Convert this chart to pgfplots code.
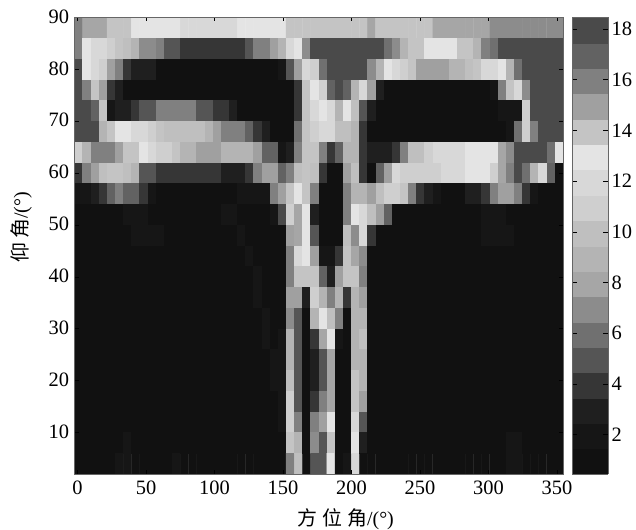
\documentclass[border=0pt]{standalone}
\usepackage{pgfplots}
\pgfplotsset{compat=1.18}
\usepackage{fontspec}
\setmainfont{Liberation Serif}
\newfontfamily\cjk{Noto Sans CJK SC}
\begin{document}
\begin{tikzpicture}[x=1bp,y=1bp]
\useasboundingbox (0,0) rectangle (636,530);
\begin{axis}[
  at={(74.5bp,56bp)},anchor=south west,
  scale only axis,width=488.5bp,height=456.5bp,
  xmin=-2.2,xmax=354.4,ymin=2,ymax=90,
  xtick={0,50,...,350},ytick={10,20,...,90},
  tick align=inside,major tick length=4bp,
  tick style={black,line width=0.5bp},
  axis line style={black!60,line width=0.6bp},
  axis on top,
  /pgf/number format/assume math mode=true,
  tick label style={font=\fontsize{20.5}{23}\selectfont},
  xticklabel style={yshift=-3bp},
  yticklabel style={xshift=-2bp,yshift=1bp},
  xlabel={{\cjk 方\hspace{0.25em}位\hspace{0.25em}角}/(°)},
  ylabel={{\cjk 仰\hspace{0.2em}角}/(°)},
  label style={font=\fontsize{20}{24}\selectfont},
  xlabel style={at={(axis description cs:0.555,0)},yshift=-31bp},
  ylabel style={at={(axis description cs:0,0.54)},yshift=39bp},
  colormap={g}{
    rgb255=(17,17,17); rgb255=(22,22,22); rgb255=(31,31,31); rgb255=(54,54,54);
    rgb255=(85,85,85); rgb255=(112,112,112); rgb255=(140,140,140); rgb255=(166,166,166);
    rgb255=(180,180,180); rgb255=(191,191,191); rgb255=(207,207,207); rgb255=(216,216,216);
    rgb255=(228,228,228); rgb255=(196,196,196); rgb255=(160,160,160); rgb255=(128,128,128);
    rgb255=(98,98,98); rgb255=(74,74,74)},
  colormap access=piecewise constant,
  point meta min=0.45,point meta max=18.45,
  colorbar sampled,
  colorbar style={
    samples=19,
    at={(parent axis.north east)},anchor=north west,xshift=0.5bp,
    width=36bp,
    ytick={2,4,...,18},
    yticklabel pos=right,
    tick align=inside,
    major tick length=5bp,
    ytick pos=both,
    tick style={black,line width=0.5bp},
    axis line style={black!60,line width=0.6bp},
    /pgf/number format/assume math mode=true,
    yticklabel style={font=\fontsize{20.5}{23}\selectfont,xshift=0bp},
  },
]
\addplot[matrix plot*,mesh/cols=60,point meta=explicit] table[header=false,row sep=crcr,
  x expr={-2.2+5.9433*(\coordindex-60*floor((\coordindex+0.5)/60)+0.5)},
  y expr={(21-floor((\coordindex+0.5)/60))*4+4},
  meta index=0]{
16\\8\\8\\8\\14\\14\\14\\13\\13\\13\\ 13\\13\\13\\12\\12\\12\\12\\12\\12\\12\\ 13\\13\\13\\13\\13\\13\\14\\14\\14\\14\\ 14\\14\\14\\14\\14\\14\\8\\14\\14\\14\\ 14\\14\\14\\14\\8\\8\\8\\8\\8\\8\\ 8\\7\\7\\7\\7\\7\\7\\7\\7\\7\\
16\\13\\12\\12\\11\\14\\10\\9\\7\\7\\ 16\\5\\5\\4\\4\\4\\4\\4\\4\\4\\ 4\\5\\16\\16\\15\\9\\12\\13\\7\\18\\ 18\\18\\18\\18\\18\\18\\18\\18\\6\\7\\ 9\\14\\14\\13\\13\\13\\13\\14\\14\\9\\ 16\\6\\18\\18\\18\\18\\18\\18\\18\\18\\
18\\13\\12\\11\\15\\16\\4\\3\\3\\3\\ 1\\1\\1\\1\\1\\1\\1\\1\\1\\1\\ 1\\1\\1\\1\\1\\2\\5\\15\\12\\11\\ 6\\18\\18\\18\\18\\18\\7\\9\\13\\12\\ 11\\14\\15\\15\\15\\15\\9\\9\\10\\14\\ 12\\12\\13\\9\\6\\18\\18\\18\\18\\18\\
18\\16\\14\\15\\4\\3\\1\\1\\1\\1\\ 1\\1\\1\\1\\1\\1\\1\\1\\1\\1\\ 1\\1\\1\\1\\1\\1\\1\\4\\14\\13\\ 11\\17\\18\\17\\9\\12\\15\\3\\1\\1\\ 1\\1\\1\\1\\1\\1\\1\\1\\1\\1\\ 1\\2\\16\\14\\12\\7\\18\\18\\18\\18\\
18\\18\\17\\14\\2\\3\\3\\4\\5\\5\\ 16\\16\\16\\16\\16\\5\\5\\4\\4\\3\\ 1\\1\\1\\1\\1\\1\\1\\4\\14\\12\\ 13\\12\\9\\13\\10\\5\\3\\1\\1\\1\\ 1\\1\\1\\1\\1\\1\\1\\1\\1\\1\\ 1\\1\\2\\2\\2\\11\\18\\18\\18\\18\\
18\\18\\18\\9\\14\\13\\13\\12\\12\\11\\ 14\\10\\10\\10\\10\\10\\9\\15\\16\\16\\ 16\\17\\4\\3\\1\\1\\1\\6\\14\\11\\ 12\\12\\10\\10\\9\\4\\1\\1\\1\\1\\ 1\\1\\1\\1\\1\\1\\1\\1\\1\\1\\ 1\\1\\1\\2\\6\\11\\16\\18\\18\\18\\
11\\9\\16\\16\\16\\15\\14\\14\\13\\12\\ 11\\11\\14\\9\\9\\15\\15\\15\\9\\9\\ 9\\9\\15\\17\\17\\2\\3\\16\\14\\14\\ 16\\4\\17\\9\\9\\4\\3\\3\\3\\4\\ 16\\10\\10\\11\\12\\12\\12\\12\\13\\13\\ 13\\13\\8\\7\\18\\18\\18\\18\\6\\13\\
4\\16\\15\\10\\14\\14\\10\\9\\5\\5\\ 4\\4\\4\\4\\4\\4\\4\\4\\3\\3\\ 3\\4\\16\\15\\15\\17\\16\\10\\14\\10\\ 4\\1\\1\\15\\10\\4\\1\\17\\15\\12\\ 11\\11\\11\\11\\11\\12\\12\\12\\13\\13\\ 13\\11\\8\\16\\18\\6\\9\\12\\17\\1\\
2\\2\\3\\4\\17\\16\\17\\17\\4\\2\\ 1\\1\\1\\1\\1\\1\\1\\1\\1\\1\\ 2\\2\\2\\2\\16\\15\\14\\13\\14\\16\\ 1\\1\\1\\16\\9\\9\\15\\10\\11\\11\\ 14\\16\\4\\3\\2\\1\\1\\1\\3\\3\\ 4\\16\\15\\15\\16\\4\\2\\1\\1\\1\\
1\\1\\1\\1\\1\\1\\2\\2\\2\\1\\ 1\\1\\1\\1\\1\\1\\1\\1\\2\\2\\ 1\\1\\1\\1\\2\\18\\11\\8\\13\\3\\ 1\\1\\1\\16\\13\\12\\10\\15\\17\\1\\ 1\\1\\1\\1\\1\\1\\1\\1\\1\\1\\ 2\\2\\2\\1\\1\\1\\1\\1\\1\\1\\
1\\1\\1\\1\\1\\1\\1\\2\\2\\2\\ 2\\1\\1\\1\\1\\1\\1\\1\\1\\1\\ 2\\1\\1\\1\\1\\1\\15\\8\\13\\5\\ 1\\1\\1\\10\\7\\12\\4\\1\\1\\1\\ 1\\1\\1\\1\\1\\1\\1\\1\\1\\1\\ 2\\2\\2\\2\\1\\1\\1\\1\\1\\1\\
1\\1\\1\\1\\1\\1\\1\\1\\1\\1\\ 1\\1\\1\\1\\1\\1\\1\\1\\1\\1\\ 1\\2\\1\\1\\1\\1\\16\\12\\13\\15\\ 2\\2\\4\\14\\8\\7\\1\\1\\1\\1\\ 1\\1\\1\\1\\1\\1\\1\\1\\1\\1\\ 1\\1\\1\\1\\1\\1\\1\\1\\1\\1\\
1\\1\\1\\1\\1\\1\\1\\1\\1\\1\\ 1\\1\\1\\1\\1\\1\\1\\1\\1\\1\\ 1\\1\\2\\1\\1\\1\\16\\14\\14\\14\\ 17\\3\\15\\14\\14\\16\\1\\1\\1\\1\\ 1\\1\\1\\1\\1\\1\\1\\1\\1\\1\\ 1\\1\\1\\1\\1\\1\\1\\1\\1\\1\\
1\\1\\1\\1\\1\\1\\1\\1\\1\\1\\ 1\\1\\1\\1\\1\\1\\1\\1\\1\\1\\ 1\\1\\2\\1\\1\\1\\15\\15\\3\\11\\ 9\\16\\9\\4\\9\\15\\1\\1\\1\\1\\ 1\\1\\1\\1\\1\\1\\1\\1\\1\\1\\ 1\\1\\1\\1\\1\\1\\1\\1\\1\\1\\
1\\1\\1\\1\\1\\1\\1\\1\\1\\1\\ 1\\1\\1\\1\\1\\1\\1\\1\\1\\1\\ 1\\1\\1\\2\\1\\1\\7\\5\\1\\9\\ 13\\10\\16\\1\\9\\9\\1\\1\\1\\1\\ 1\\1\\1\\1\\1\\1\\1\\1\\1\\1\\ 1\\1\\1\\1\\1\\1\\1\\1\\1\\1\\
1\\1\\1\\1\\1\\1\\1\\1\\1\\1\\ 1\\1\\1\\1\\1\\1\\1\\1\\1\\1\\ 1\\1\\1\\2\\1\\2\\9\\5\\1\\4\\ 8\\13\\2\\1\\9\\10\\1\\1\\1\\1\\ 1\\1\\1\\1\\1\\1\\1\\1\\1\\1\\ 1\\1\\1\\1\\1\\1\\1\\1\\1\\1\\
1\\1\\1\\1\\1\\1\\1\\1\\1\\1\\ 1\\1\\1\\1\\1\\1\\1\\1\\1\\1\\ 1\\1\\1\\1\\2\\2\\9\\5\\1\\3\\ 5\\8\\1\\1\\9\\9\\1\\1\\1\\1\\ 1\\1\\1\\1\\1\\1\\1\\1\\1\\1\\ 1\\1\\1\\1\\1\\1\\1\\1\\1\\1\\
1\\1\\1\\1\\1\\1\\1\\1\\1\\1\\ 1\\1\\1\\1\\1\\1\\1\\1\\1\\1\\ 1\\1\\1\\1\\2\\2\\10\\5\\1\\3\\ 5\\8\\1\\1\\14\\9\\1\\1\\1\\1\\ 1\\1\\1\\1\\1\\1\\1\\1\\1\\1\\ 1\\1\\1\\1\\1\\1\\1\\1\\1\\1\\
1\\1\\1\\1\\1\\1\\1\\1\\1\\1\\ 1\\1\\1\\1\\1\\1\\1\\1\\1\\1\\ 1\\1\\1\\1\\1\\2\\11\\5\\1\\4\\ 16\\8\\1\\1\\14\\15\\1\\1\\1\\1\\ 1\\1\\1\\1\\1\\1\\1\\1\\1\\1\\ 1\\1\\1\\1\\1\\1\\1\\1\\1\\1\\
1\\1\\1\\1\\1\\1\\1\\1\\1\\1\\ 1\\1\\1\\1\\1\\1\\1\\1\\1\\1\\ 1\\1\\1\\1\\1\\2\\11\\16\\1\\16\\ 15\\13\\1\\1\\12\\5\\1\\1\\1\\1\\ 1\\1\\1\\1\\1\\1\\1\\1\\1\\1\\ 1\\1\\1\\1\\1\\1\\1\\1\\1\\1\\
1\\1\\1\\1\\1\\1\\2\\1\\1\\1\\ 1\\1\\1\\1\\1\\1\\1\\1\\1\\1\\ 1\\1\\1\\1\\1\\1\\14\\9\\1\\7\\ 5\\14\\1\\1\\13\\3\\1\\1\\1\\1\\ 1\\1\\1\\1\\1\\1\\1\\1\\1\\1\\ 1\\1\\1\\2\\2\\1\\1\\1\\1\\1\\
1\\1\\1\\1\\1\\2\\2\\1\\1\\1\\ 1\\1\\2\\1\\1\\1\\1\\1\\1\\1\\ 1\\1\\1\\1\\1\\1\\16\\10\\1\\5\\ 5\\13\\1\\2\\12\\1\\1\\1\\1\\1\\ 1\\1\\1\\1\\1\\1\\1\\1\\1\\1\\ 1\\1\\1\\2\\2\\1\\1\\1\\1\\1\\
};
\end{axis}
\end{tikzpicture}
\end{document}
